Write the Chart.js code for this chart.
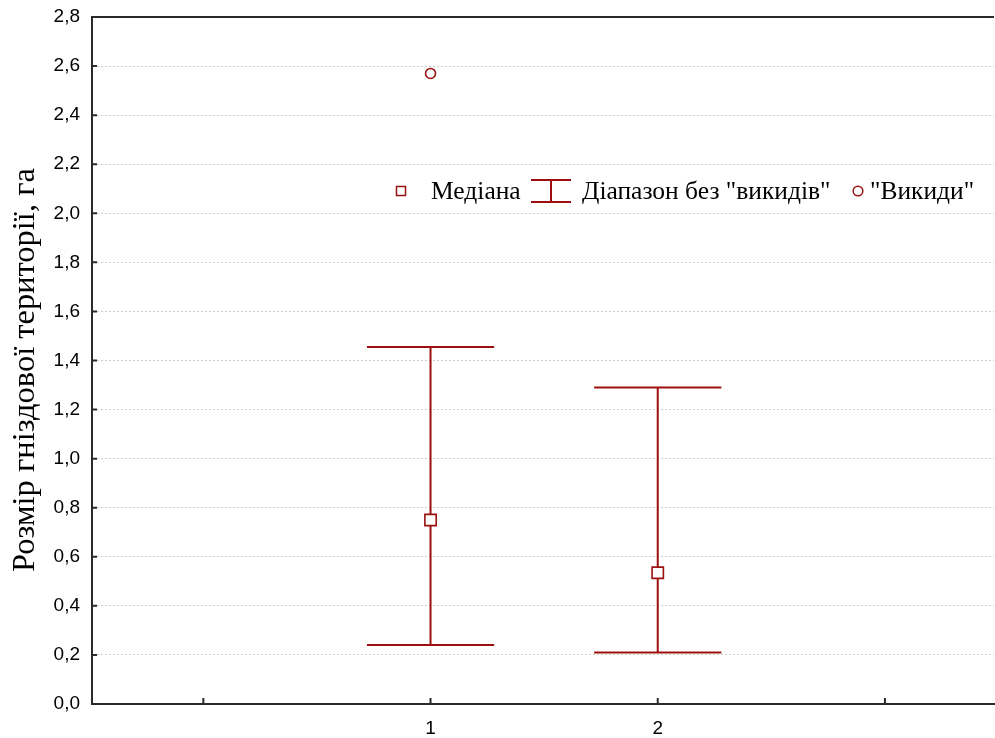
<!DOCTYPE html>
<html>
<head>
<meta charset="utf-8">
<script src="https://cdn.jsdelivr.net/npm/chart.js@4.4.1/dist/chart.umd.min.js"></script>
<style>
  html, body { margin: 0; padding: 0; background: #ffffff; }
  #wrap { width: 995px; height: 738px; }
</style>
</head>
<body>
<div id="wrap"><canvas id="c" width="995" height="738"></canvas></div>
<script>
// Groups on the x axis and their statistics (nest territory size, ha)
const groups = [1, 2];
const medians = [0.75, 0.535];
const rangeLow = [0.24, 0.21];
const rangeHigh = [1.455, 1.29];
const outlierGroup = [1];
const outlierValue = [2.57];
const xTickValues = [0, 1, 2, 3];
const xTickLabels = ['', '1', '2', ''];

const yTitle = 'Розмір гніздової території, га';
const legendLabels = ['Медіана', 'Діапазон без "викидів"', '"Викиди"'];

const RED = '#9c1010';
const AXIS = '#2a2a2a';
const SERIF = '"Liberation Serif", "Times New Roman", serif';
const SANS = '"Liberation Sans", Arial, sans-serif';

const medianPoints = groups.map((g, i) => ({ x: g, y: medians[i] }));
const outlierPoints = outlierGroup.map((g, i) => ({ x: g, y: outlierValue[i] }));

// Whiskers, inward tick marks, top frame, axis title and the in-plot legend
const decor = {
  id: 'decor',
  beforeDatasetsDraw(chart) {
    const { ctx, scales: { x, y } } = chart;
    const capHalf = 0.28;
    ctx.save();
    ctx.strokeStyle = RED;
    ctx.lineWidth = 2;
    groups.forEach((g, i) => {
      const px = x.getPixelForValue(g);
      const yl = y.getPixelForValue(rangeLow[i]);
      const yh = y.getPixelForValue(rangeHigh[i]);
      ctx.beginPath();
      ctx.moveTo(px, yl); ctx.lineTo(px, yh);
      ctx.moveTo(x.getPixelForValue(g - capHalf), yl);
      ctx.lineTo(x.getPixelForValue(g + capHalf), yl);
      ctx.moveTo(x.getPixelForValue(g - capHalf), yh);
      ctx.lineTo(x.getPixelForValue(g + capHalf), yh);
      ctx.stroke();
    });
    ctx.restore();
  },
  afterDraw(chart) {
    const { ctx, chartArea: a, scales: { x, y } } = chart;
    ctx.save();
    ctx.strokeStyle = AXIS;
    ctx.lineWidth = 2;
    // top frame line
    ctx.beginPath();
    ctx.moveTo(a.left - 1, a.top);
    ctx.lineTo(a.right, a.top);
    ctx.stroke();
    // inward tick marks
    ctx.beginPath();
    y.ticks.forEach(t => {
      const py = y.getPixelForValue(t.value);
      ctx.moveTo(a.left, py); ctx.lineTo(a.left + 5, py);
    });
    xTickValues.forEach(v => {
      const px = x.getPixelForValue(v);
      ctx.moveTo(px, a.bottom); ctx.lineTo(px, a.bottom - 6);
    });
    ctx.stroke();

    // y axis title
    ctx.save();
    ctx.translate(25, 370);
    ctx.rotate(-Math.PI / 2);
    ctx.font = '32.5px ' + SERIF;
    ctx.fillStyle = '#000';
    ctx.textAlign = 'center';
    ctx.textBaseline = 'middle';
    ctx.fillText(yTitle, 0, 0);
    ctx.restore();

    // legend
    const ly = 191;
    ctx.font = '25.5px ' + SERIF;
    ctx.textBaseline = 'middle';
    ctx.textAlign = 'left';
    // median symbol
    ctx.fillStyle = '#fff';
    ctx.strokeStyle = RED;
    ctx.lineWidth = 1.5;
    ctx.fillRect(396.5, ly - 4.5, 9, 9);
    ctx.strokeRect(396.5, ly - 4.5, 9, 9);
    ctx.fillStyle = '#000';
    ctx.fillText(legendLabels[0], 431, ly + 1);
    // range symbol
    ctx.strokeStyle = RED;
    ctx.lineWidth = 2;
    ctx.beginPath();
    ctx.moveTo(531, ly - 11); ctx.lineTo(571, ly - 11);
    ctx.moveTo(531, ly + 11); ctx.lineTo(571, ly + 11);
    ctx.moveTo(551, ly - 11); ctx.lineTo(551, ly + 11);
    ctx.stroke();
    ctx.fillText(legendLabels[1], 582, ly + 1);
    // outlier symbol
    ctx.lineWidth = 1.5;
    ctx.beginPath();
    ctx.arc(858, ly, 4.8, 0, Math.PI * 2);
    ctx.stroke();
    ctx.fillText(legendLabels[2], 870, ly + 1);
    ctx.restore();
  }
};

new Chart(document.getElementById('c'), {
  type: 'scatter',
  data: {
    datasets: [
      {
        label: legendLabels[0],
        data: medianPoints,
        pointStyle: 'rect',
        pointRadius: 8,
        pointBackgroundColor: '#ffffff',
        pointBorderColor: RED,
        pointBorderWidth: 1.6,
        order: 1
      },
      {
        label: legendLabels[2],
        data: outlierPoints,
        pointStyle: 'circle',
        pointRadius: 5,
        pointBackgroundColor: '#ffffff',
        pointBorderColor: RED,
        pointBorderWidth: 1.6,
        order: 2
      }
    ]
  },
  options: {
    responsive: false,
    animation: false,
    events: [],
    layout: { autoPadding: false, padding: { top: 17, right: 1, left: 0, bottom: 0 } },
    plugins: {
      legend: { display: false },
      tooltip: { enabled: false },
      title: { display: false }
    },
    scales: {
      x: {
        type: 'linear',
        min: -0.49,
        max: 3.48,
        afterBuildTicks(scale) {
          scale.ticks = xTickValues.map(v => ({ value: v }));
        },
        afterFit(scale) {
          scale.height = 34;
          scale.paddingLeft = 0;
          scale.paddingRight = 0;
        },
        grid: { display: false, drawTicks: false },
        border: { display: true, color: AXIS, width: 2 },
        ticks: {
          autoSkip: false,
          maxRotation: 0,
          padding: 13,
          color: '#000',
          font: { family: SANS, size: 19 },
          callback: (v) => xTickLabels[xTickValues.indexOf(v)] ?? ''
        }
      },
      y: {
        type: 'linear',
        min: 0,
        max: 2.8,
        afterFit(scale) {
          scale.width = 92;
          scale.paddingTop = 0;
          scale.paddingBottom = 0;
        },
        grid: {
          drawTicks: false,
          color: (c) => (c.tick.value <= 0 || c.tick.value >= 2.8) ? 'rgba(0,0,0,0)' : '#cdcdcd',
          lineWidth: 1
        },
        border: { display: true, color: AXIS, width: 2, dash: [2, 2] },
        ticks: {
          stepSize: 0.2,
          padding: 12,
          color: '#000',
          font: { family: SANS, size: 19 },
          callback: (v) => v.toFixed(1).replace('.', ',')
        },
        title: { display: false }
      }
    }
  },
  plugins: [decor]
});
</script>
</body>
</html>
